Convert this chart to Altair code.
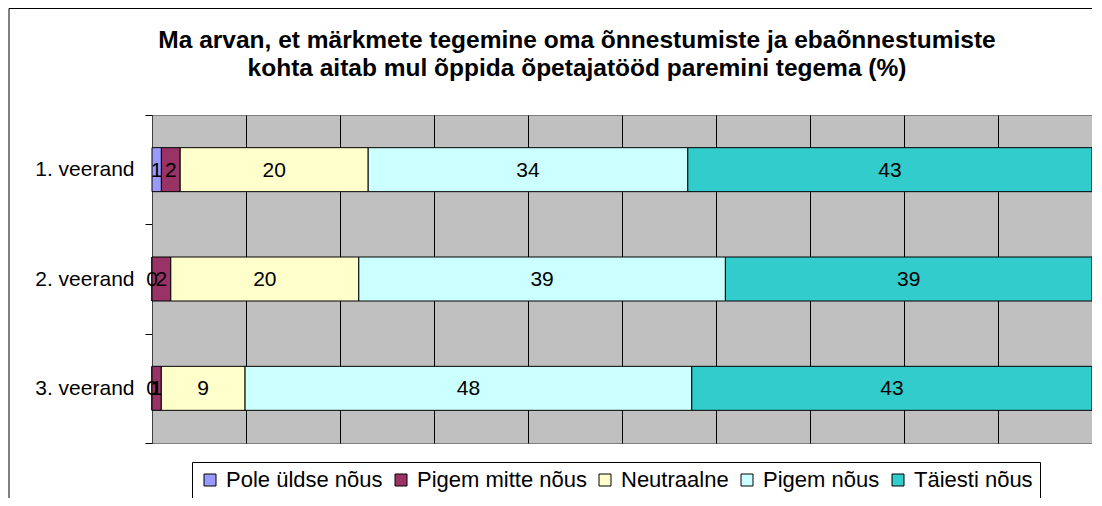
import altair as alt
import pandas as pd

rows = ["1. veerand", "2. veerand", "3. veerand"]
categories = ["Pole üldse nõus", "Pigem mitte nõus", "Neutraalne", "Pigem nõus", "Täiesti nõus"]
pole = [1, 0, 0]
pigem_mitte = [2, 2, 1]
neutraalne = [20, 20, 9]
pigem = [34, 39, 48]
taiesti = [43, 39, 43]
colors = ["#9999FF", "#993366", "#FFFFCC", "#CCFFFF", "#33CCCC"]
title_lines = [
    "Ma arvan, et märkmete tegemine oma õnnestumiste ja ebaõnnestumiste",
    "kohta aitab mul õppida õpetajatööd paremini tegema (%)",
]

series = [pole, pigem_mitte, neutraalne, pigem, taiesti]
records = []
for ci, (cat, vals) in enumerate(zip(categories, series)):
    for r, v in zip(rows, vals):
        records.append({"row": r, "cat": cat, "order": ci, "value": v})
df = pd.DataFrame(records)

FONT = "Liberation Sans"

base = alt.Chart(df).transform_stack(
    stack="value",
    groupby=["row"],
    as_=["v0", "v1"],
    sort=[alt.SortField("order")],
    offset="normalize",
).transform_calculate(mid="(datum.v0 + datum.v1) / 2")

x_scale = alt.Scale(domain=[0, 1], nice=False, zero=True)
y_enc = alt.Y(
    "row:N",
    sort=rows,
    scale=alt.Scale(paddingInner=0, paddingOuter=0),
    axis=alt.Axis(
        title=None,
        tickBand="extent",
        tickSize=7,
        labelPadding=11,
        labelFontSize=21,
        labelFont=FONT,
        labelColor="black",
        domainColor="#404040",
        tickColor="black",
        grid=False,
    ),
)

bars = base.mark_bar(size=44, stroke="black", strokeWidth=1).encode(
    x=alt.X(
        "v0:Q",
        scale=x_scale,
        axis=alt.Axis(
            title=None, labels=False, ticks=False, domain=False,
            grid=True, gridColor="black", gridWidth=1, tickCount=10,
        ),
    ),
    x2="v1:Q",
    y=y_enc,
    color=alt.Color(
        "cat:N",
        scale=alt.Scale(domain=categories, range=colors),
        legend=alt.Legend(
            title=None,
            orient="none",
            legendX=40,
            legendY=347,
            direction="horizontal",
            symbolType="square",
            symbolSize=144,
            symbolStrokeColor="black",
            symbolStrokeWidth=1,
            symbolOpacity=1,
            labelFontSize=22,
            labelFont=FONT,
            labelColor="black",
            labelLimit=0,
            labelOffset=5,
            columnPadding=7,
            padding=7,
            strokeColor="black",
            fillColor="white",
        ),
    ),
)

labels = base.mark_text(fontSize=21, font=FONT, baseline="middle", color="black", dy=1).encode(
    x=alt.X("mid:Q", scale=x_scale),
    y=alt.Y("row:N", sort=rows),
    text=alt.Text("value:Q"),
)

frame_data = pd.DataFrame({"a": [0]})
frame_left = alt.Chart(frame_data).mark_rule(stroke="black", strokeWidth=1).encode(
    x=alt.value(-143), y=alt.value(-106.5), y2=alt.value(420),
)
frame_top = alt.Chart(frame_data).mark_rule(stroke="black", strokeWidth=1).encode(
    x=alt.value(-143), x2=alt.value(1000), y=alt.value(-106.5),
)

chart = alt.layer(bars, labels, frame_left, frame_top).properties(
    width=940,
    height=328,
    background="white",
    title=alt.TitleParams(
        text=title_lines,
        fontSize=24.5,
        font=FONT,
        fontWeight="bold",
        color="black",
        anchor="middle",
        frame="group",
        dx=-45,
        offset=-73,
        lineHeight=28,
    ),
    autosize=alt.AutoSizeParams(type="none"),
    padding={"left": 144, "top": 107, "right": 0, "bottom": 55},
).configure_view(
    fill="#C0C0C0", stroke="#808080"
)

chart.save("out.html", embed_options={"renderer": "svg", "actions": False})
